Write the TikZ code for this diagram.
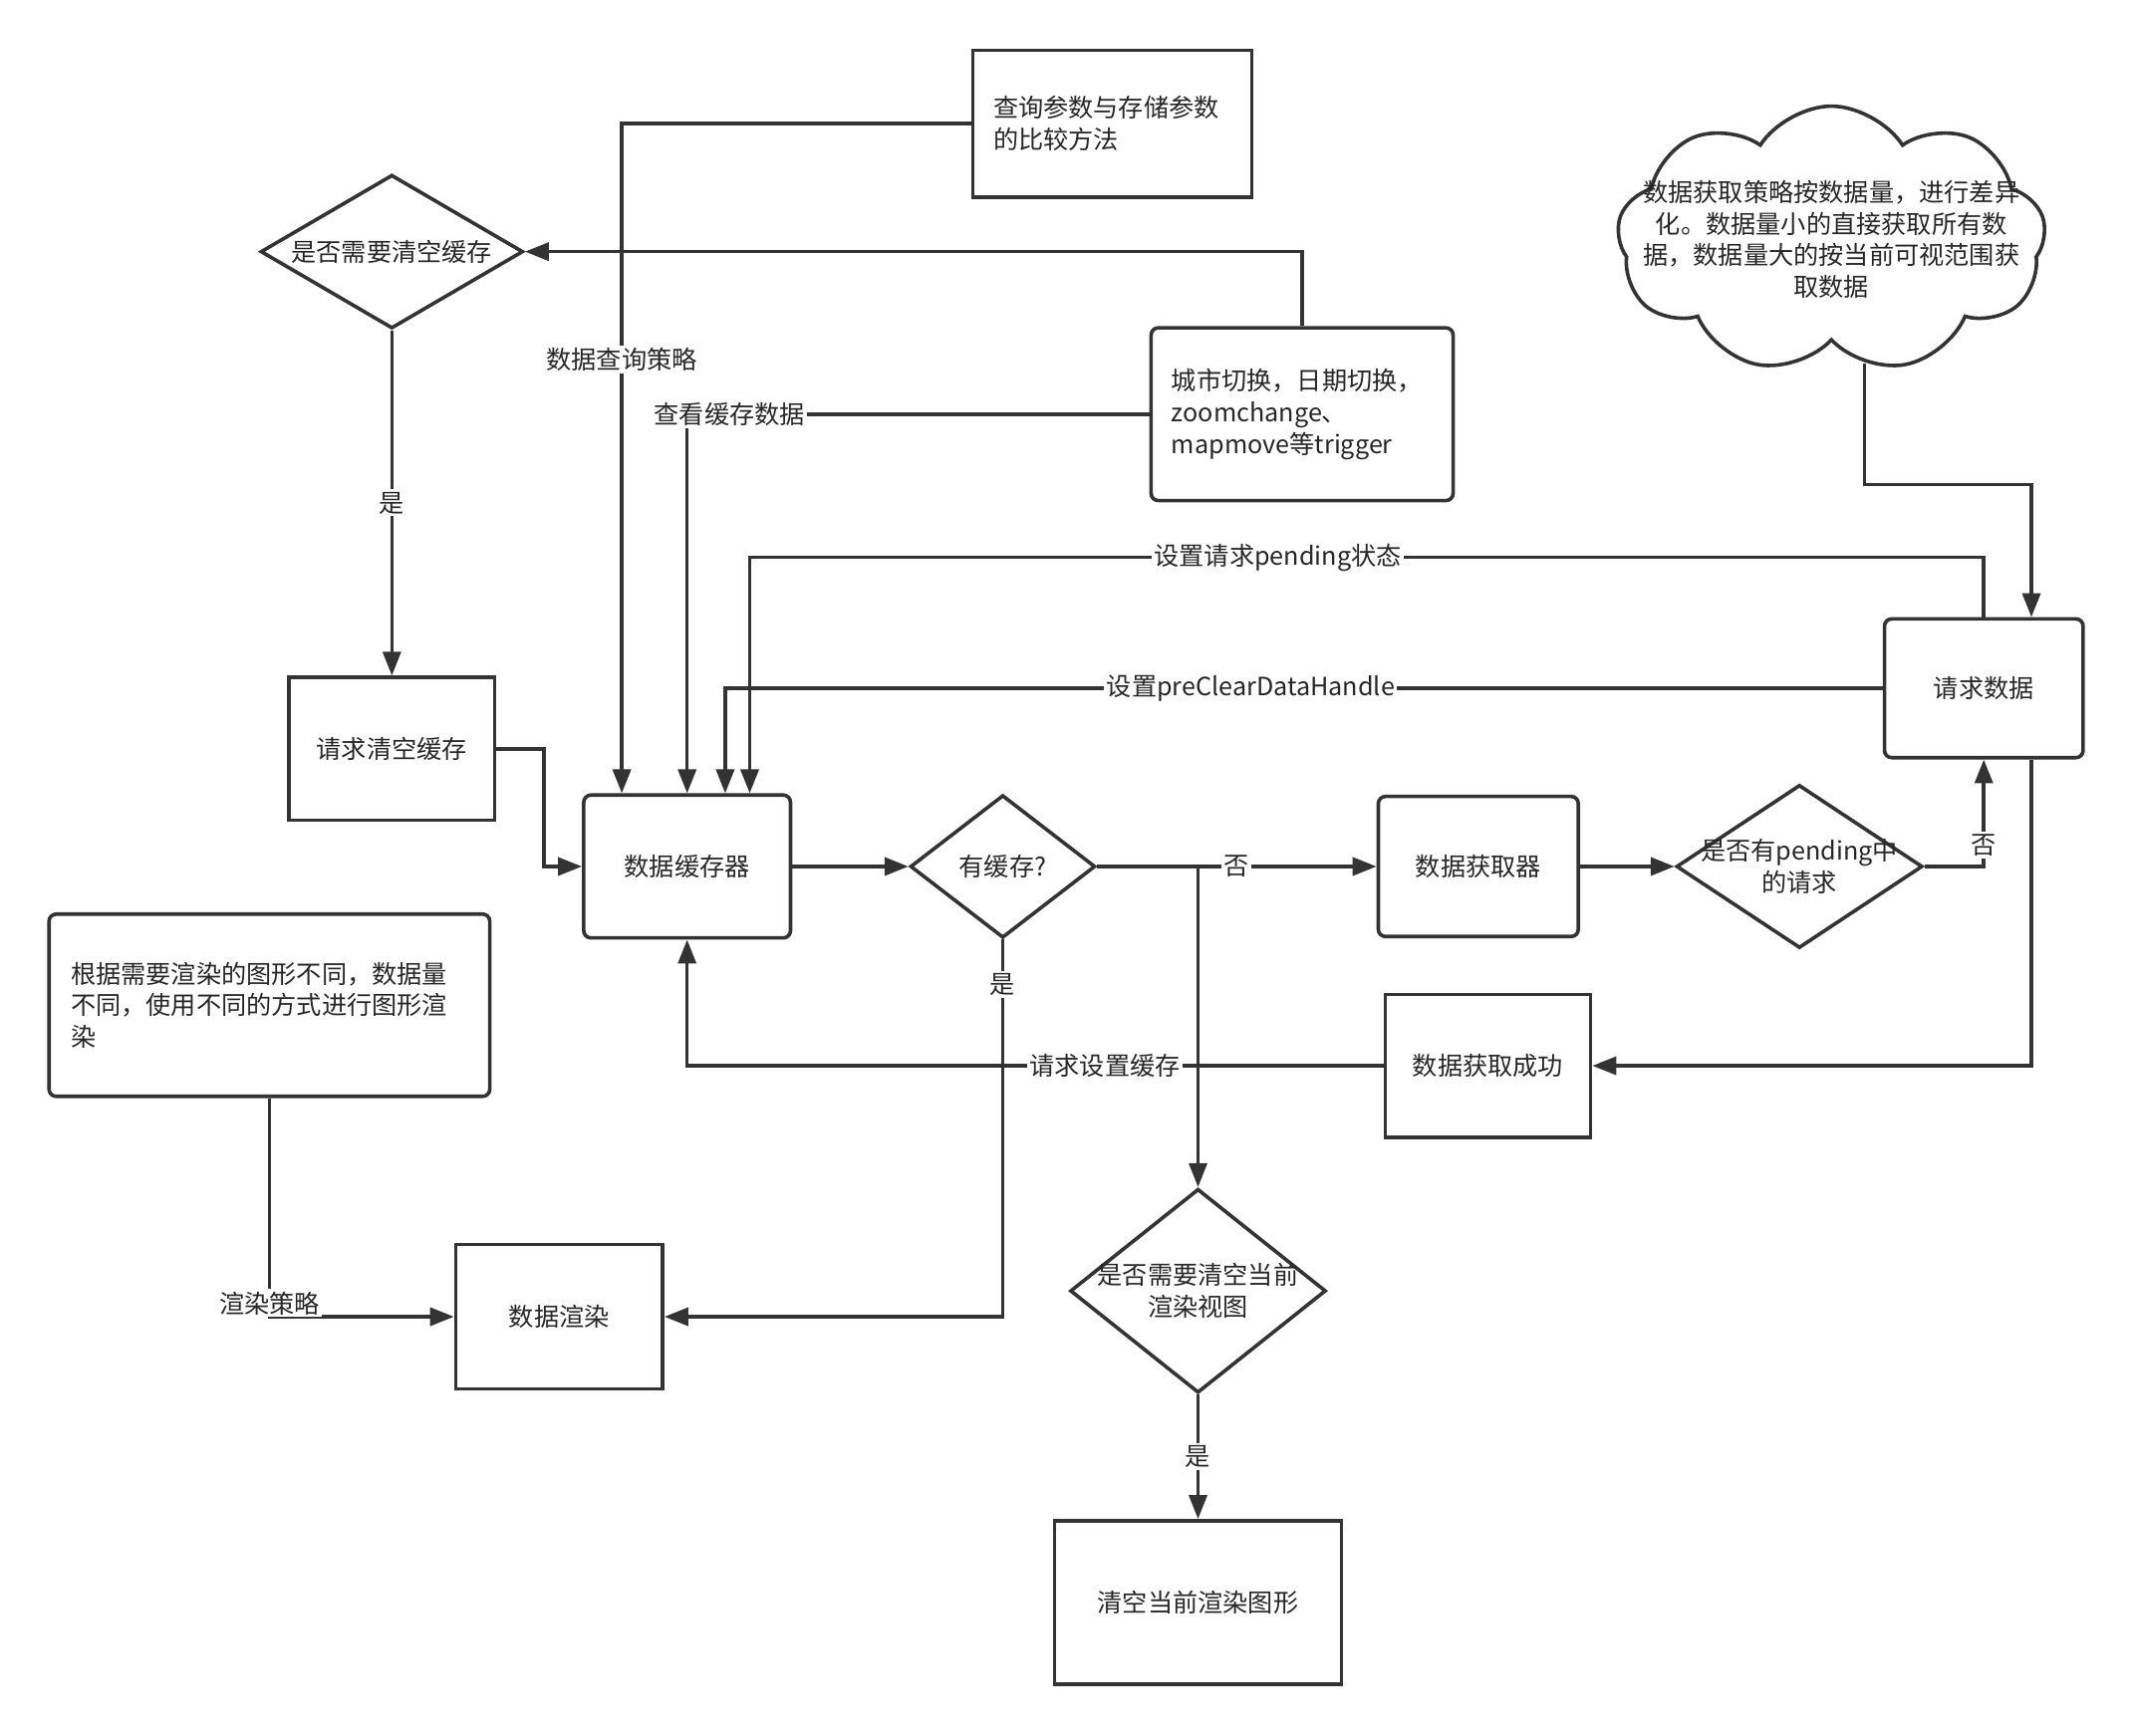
\documentclass[tikz,border=0pt]{standalone}
\usepackage{fontspec}
\newfontfamily\cjk{Noto Sans CJK SC}
\usetikzlibrary{shapes.geometric,shapes.symbols,arrows.meta}

\begin{document}
\begin{tikzpicture}[x=0.02cm,y=-0.02cm,
	every node/.style={font=\cjk\fontsize{10.5pt}{13.3pt}\selectfont,text=black!85},
	line/.style={draw=black!80,line width=1.5pt},
	arr/.style={line,-{Triangle[length=10pt,width=7.5pt]}},
	box/.style={line,rectangle,inner sep=0},
	rbox/.style={box,rounded corners=3pt},
	notebox/.style={line,rectangle,inner xsep=0.3cm,align=left},
	dia/.style={line,diamond,inner sep=0},
	lbl/.style={fill=white,inner sep=1pt}]
	\useasboundingbox (0,0) rectangle (1568.4,1276.2);

	% top row
	\node[notebox,text width=3.5cm,minimum height=2.16cm] (qp) at (817.5,91) {查询参数与存储参数\\的比较方法};
	\node[dia,minimum width=3.86cm,minimum height=2.26cm,label={center:是否需要清空缓存}] (needclr) at (288,185) {};
	\node[notebox,rounded corners=3pt,text width=3.84cm,minimum height=2.54cm] (trig) at (957,304.5) {城市切换，日期切换，\\zoomchange、\\mapmove等trigger};
	\node[line,cloud,cloud puffs=9,cloud puff arc=115,cloud ignores aspect,minimum width=6.3cm,minimum height=3.92cm,
		label={[align=center]center:数据获取策略按数据量，进行差异\\化。数据量小的直接获取所有数\\据，数据量大的按当前可视范围获\\取数据}] (cl) at (1346,176) {};

	% middle row
	\node[rbox,minimum width=2.92cm,minimum height=2.04cm] (reqd) at (1458,506) {请求数据};
	\node[box,minimum width=3.02cm,minimum height=2.1cm] (clrreq) at (288,550.5) {请求清空缓存};
	\node[rbox,minimum width=3.04cm,minimum height=2.1cm] (cache) at (505,637) {数据缓存器};
	\node[dia,minimum width=2.72cm,minimum height=2.1cm,label={center:有缓存?}] (hascache) at (737,637) {};
	\node[rbox,minimum width=2.94cm,minimum height=2.06cm] (fetcher) at (1086.5,637) {数据获取器};
	\node[dia,minimum width=3.62cm,minimum height=2.4cm,label={[align=center]center:是否有pending中\\的请求}] (pending) at (1322.5,637) {};
	\node[box,minimum width=3.02cm,minimum height=2.1cm] (fetchok) at (1093.5,783.5) {数据获取成功};

	% bottom
	\node[notebox,rounded corners=3pt,inner xsep=0.32cm,text width=5.84cm,minimum height=2.68cm] (rnote) at (198,739) {根据需要渲染的图形不同，数据量\\不同，使用不同的方式进行图形渲\\染};
	\node[box,minimum width=3.04cm,minimum height=2.12cm] (render) at (411,968) {数据渲染};
	\node[dia,minimum width=3.76cm,minimum height=3cm,label={[align=center]center:是否需要清空当前\\渲染视图}] (clrview) at (880.5,949) {};
	\node[box,minimum width=4.22cm,minimum height=2.4cm] (clrgfx) at (880.5,1178) {清空当前渲染图形};

	% connectors
	\draw[arr] (qp.west) -| node[lbl,pos=0.676]{数据查询策略} ([xshift=-0.96cm]cache.north);
	\draw[arr] (trig.north) |- (needclr.east);
	\draw[arr] (trig.west) -| node[lbl,pos=0.454]{查看缓存数据} (cache.north);
	\draw[arr] (needclr.south) -- node[lbl]{是} (clrreq.north);
	\draw[arr] (clrreq.east) -- ++(35,0) |- (cache.west);
	\draw[arr] (reqd.north) -- ++(0,-44) -| node[lbl,pos=0.286]{设置请求pending状态} ([xshift=0.92cm]cache.north);
	\draw[arr] (reqd.west) -| node[lbl,pos=0.273]{设置preClearDataHandle} ([xshift=0.56cm]cache.north);
	\draw[arr] (cache.east) -- (hascache.west);
	\draw[arr] (hascache.east) -- node[lbl]{否} (fetcher.west);
	\draw[arr] (hascache.east) -| (clrview.north);
	\draw[arr] (hascache.south) |- node[lbl,pos=0.06]{是} (render.east);
	\draw[arr] (fetcher.east) -- (pending.west);
	\draw[arr] (pending.east) -| node[lbl,pos=0.6]{否} (reqd.south);
	\draw[arr] ([xshift=0.7cm]reqd.south) |- (fetchok.east);
	\draw[arr] (fetchok.west) -| node[lbl,pos=0.2]{请求设置缓存} (cache.south);
	\draw[arr] (cl.-75) -- ++(0,89) -| ([xshift=0.7cm]reqd.north);
	\draw[arr] (rnote.south) |- node[lbl,pos=0.5,yshift=0.2cm]{渲染策略} (render.west);
	\draw[arr] (clrview.south) -- node[lbl]{是} (clrgfx.north);
\end{tikzpicture}
\end{document}
